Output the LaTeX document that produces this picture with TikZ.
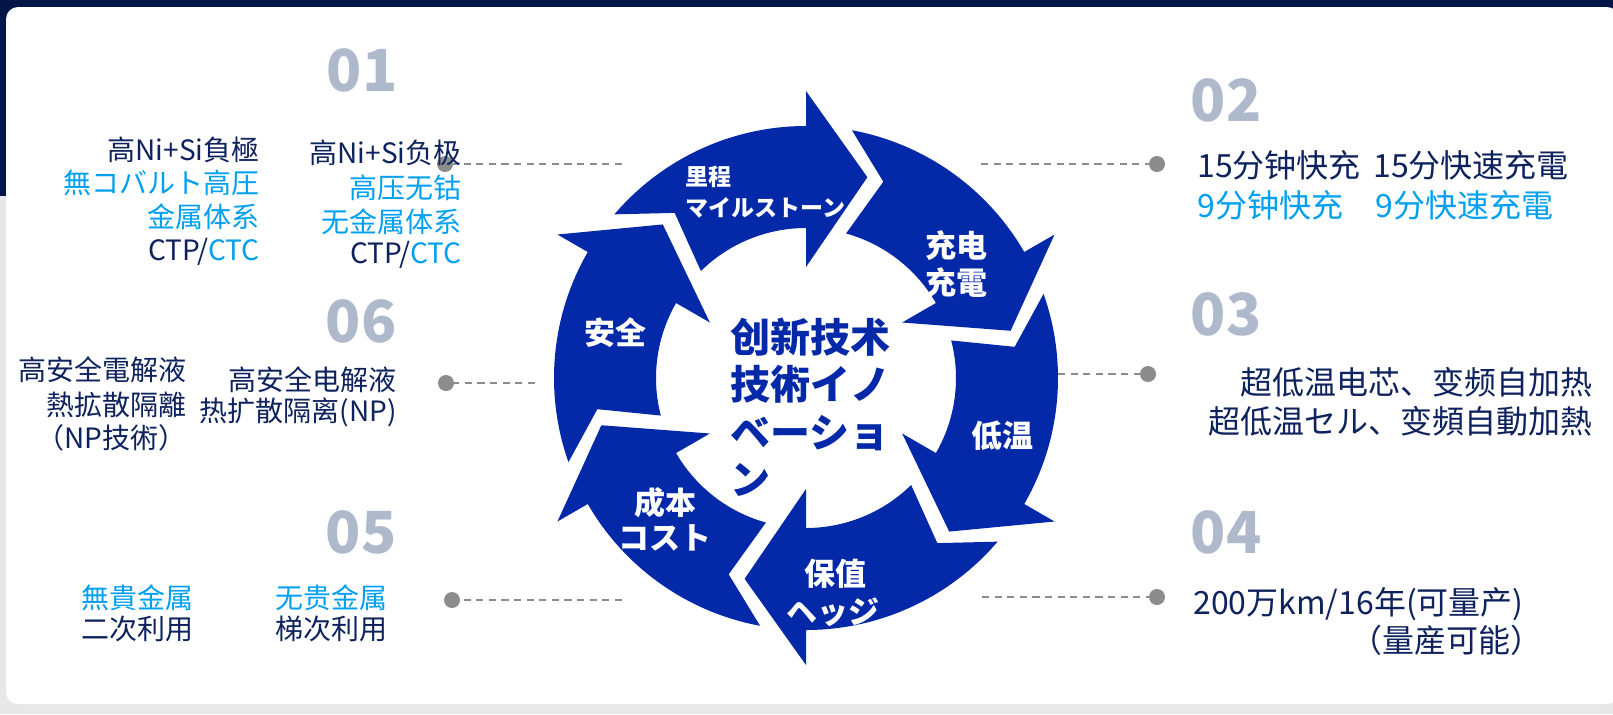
\documentclass[tikz,border=0pt]{standalone}
\usepackage{fontspec}
\setmainfont{Noto Sans CJK SC}
\definecolor{ringblue}{RGB}{3,40,168}
\definecolor{navy}{RGB}{14,34,94}
\definecolor{sky}{RGB}{0,160,240}
\definecolor{numgray}{RGB}{174,185,204}
\definecolor{dotgray}{RGB}{140,140,140}
\definecolor{bgnavy}{RGB}{4,22,72}
\definecolor{bggray}{RGB}{232,232,232}
\begin{document}
\begin{tikzpicture}[x=0.5pt,y=-0.5pt,
  lbl/.style={inner sep=0pt, text=navy, font=\fontsize{14pt}{16pt}\selectfont},
  lblb/.style={inner sep=0pt, text=navy, font=\fontsize{16pt}{18pt}\selectfont},
  num/.style={inner sep=0pt, text=numgray, font=\fontsize{29pt}{30pt}\selectfont\bfseries},
  seglbl/.style={inner sep=0pt, text=white, font=\fontsize{15.5pt}{17pt}\selectfont\bfseries},
  seglbls/.style={inner sep=0pt, text=white, font=\fontsize{11.5pt}{13pt}\selectfont\bfseries},
  titletext/.style={inner sep=0pt, text=ringblue, font=\fontsize{20pt}{22pt}\selectfont\bfseries},
  dot/.style={circle, fill=dotgray, minimum size=8pt, inner sep=0pt},
  conn/.style={dotgray, line width=1.4pt, dash pattern=on 3.6pt off 2.7pt}]
\useasboundingbox (0,0) rectangle (1613,714);
% background
\fill[bggray] (0,0) rectangle (1613,714);
\fill[bgnavy] (0,0) rectangle (1613,196);
\fill[white, rounded corners=6pt] (6,7) rectangle (1619,704);
% ring of six arrows
\begin{scope}[shift={(806,378)}, yscale=-1]
\foreach \b in {90,30,-30,-90,-150,150}{
  \pgfmathsetmacro{\ta}{\b+49.5}
  \pgfmathsetmacro{\tb}{\b+44.5}
  \pgfmathsetmacro{\tn}{\b+38.5}
  \pgfmathsetmacro{\tp}{\b-17}
  \fill[ringblue] (\ta:252) arc[start angle=\ta, end angle=\b, radius=252]
    -- (\b:287) -- (\tp:210) -- (\b:111) -- (\b:150)
    arc[start angle=\b, end angle=\tb, radius=150] -- (\tn:211) -- cycle;
}
\end{scope}
% connectors
\coordinate (q1) at (622,164);
\coordinate (q2) at (981,164);
\coordinate (q3) at (1058,374);
\coordinate (q4) at (982,597);
\coordinate (q5) at (622,600);
\coordinate (q6) at (535,383);
\node[dot] (p1) at (445,164) {};
\node[dot] (p2) at (1157,164) {};
\node[dot] (p3) at (1148,374) {};
\node[dot] (p4) at (1157,597) {};
\node[dot] (p5) at (452,600) {};
\node[dot] (p6) at (446,383) {};
\draw[conn] (q1) -- (p1);
\draw[conn] (q2) -- (p2);
\draw[conn] (q3) -- (p3);
\draw[conn] (q4) -- (p4);
\draw[conn] (q5) -- (p5);
\draw[conn] (q6) -- (p6);
% ring labels
\node[seglbls, anchor=west] (s1a) at (685,177) {里程};
\node[seglbls, anchor=west] (s1b) at (685,208) {マイルストーン};
\node[seglbl] (s2a) at (956,246) {充电};
\node[seglbl] (s2b) at (956,283) {充電};
\node[seglbl] (s3) at (1002,436) {低温};
\node[seglbl] (s4a) at (835,574) {保值};
\node[seglbl] (s4b) at (833,612) {ヘッジ};
\node[seglbl] (s5a) at (665,503) {成本};
\node[seglbl] (s5b) at (665,538) {コスト};
\node[seglbl] (s6) at (615,333) {安全};
% centre title
\node[titletext, anchor=west] (c1) at (730,337) {创新技术};
\node[titletext, anchor=west] (c2) at (730,384) {技術イノ};
\node[titletext, anchor=west] (c3) at (730,433) {ベーショ};
\node[titletext, anchor=west] (c4) at (730,480) {ン};
% numbers
\node[num] (n1) at (362,70) {01};
\node[num] (n2) at (1226,100) {02};
\node[num] (n3) at (1226,314) {03};
\node[num] (n4) at (1226,532) {04};
\node[num] (n5) at (361,532) {05};
\node[num] (n6) at (361,321) {06};
% 01
\node[lbl, anchor=base east] (a1) at (260,160.5) {高Ni+Si負極};
\node[lbl, anchor=base east, text=sky] (a2) at (260,193) {無コバルト高圧};
\node[lbl, anchor=base east, text=sky] (a3) at (260,227.5) {金属体系};
\node[lbl, anchor=base east] (a4) at (260,260.5) {CTP/\textcolor{sky}{CTC}};
\node[lbl, anchor=base east] (b1) at (462,163.5) {高Ni+Si负极};
\node[lbl, anchor=base east, text=sky] (b2) at (462,198.5) {高压无钴};
\node[lbl, anchor=base east, text=sky] (b3) at (462,232.5) {无金属体系};
\node[lbl, anchor=base east] (b4) at (462,263.5) {CTP/\textcolor{sky}{CTC}};
% 06
\node[lbl, anchor=base east] (f1) at (187,380.5) {高安全電解液};
\node[lbl, anchor=base east] (f2) at (187,415.5) {熱拡散隔離};
\node[lbl, anchor=base east] (f3) at (187,448.5) {（NP技術）};
\node[lbl, anchor=base east] (g1) at (397,390.5) {高安全电解液};
\node[lbl, anchor=base east] (g2) at (397,421.5) {热扩散隔离(NP)};
% 05
\node[lbl, anchor=base, text=sky] (e1) at (137,608.5) {無貴金属};
\node[lbl, anchor=base] (e2) at (137,639.5) {二次利用};
\node[lbl, anchor=base, text=sky] (h1) at (331,608.5) {无贵金属};
\node[lbl, anchor=base] (h2) at (331,639.5) {梯次利用};
% 02
\node[lblb, anchor=base west] (k1) at (1197,177) {15分钟快充};
\node[lblb, anchor=base west] (k2) at (1373,177) {15分快速充電};
\node[lblb, anchor=base west, text=sky] (k3) at (1197,217) {9分钟快充};
\node[lblb, anchor=base west, text=sky] (k4) at (1375,217) {9分快速充電};
% 03
\node[lblb, anchor=base east] (m1) at (1593,394) {超低温电芯、变频自加热};
\node[lblb, anchor=base east] (m2) at (1593,433) {超低温セル、变頻自動加熱};
% 04
\node[lblb, anchor=base west] (r1) at (1193,614) {200万km/16年(可量产)};
\node[lblb, anchor=base west] (r2) at (1350,652) {（量産可能）};
\end{tikzpicture}
\end{document}
